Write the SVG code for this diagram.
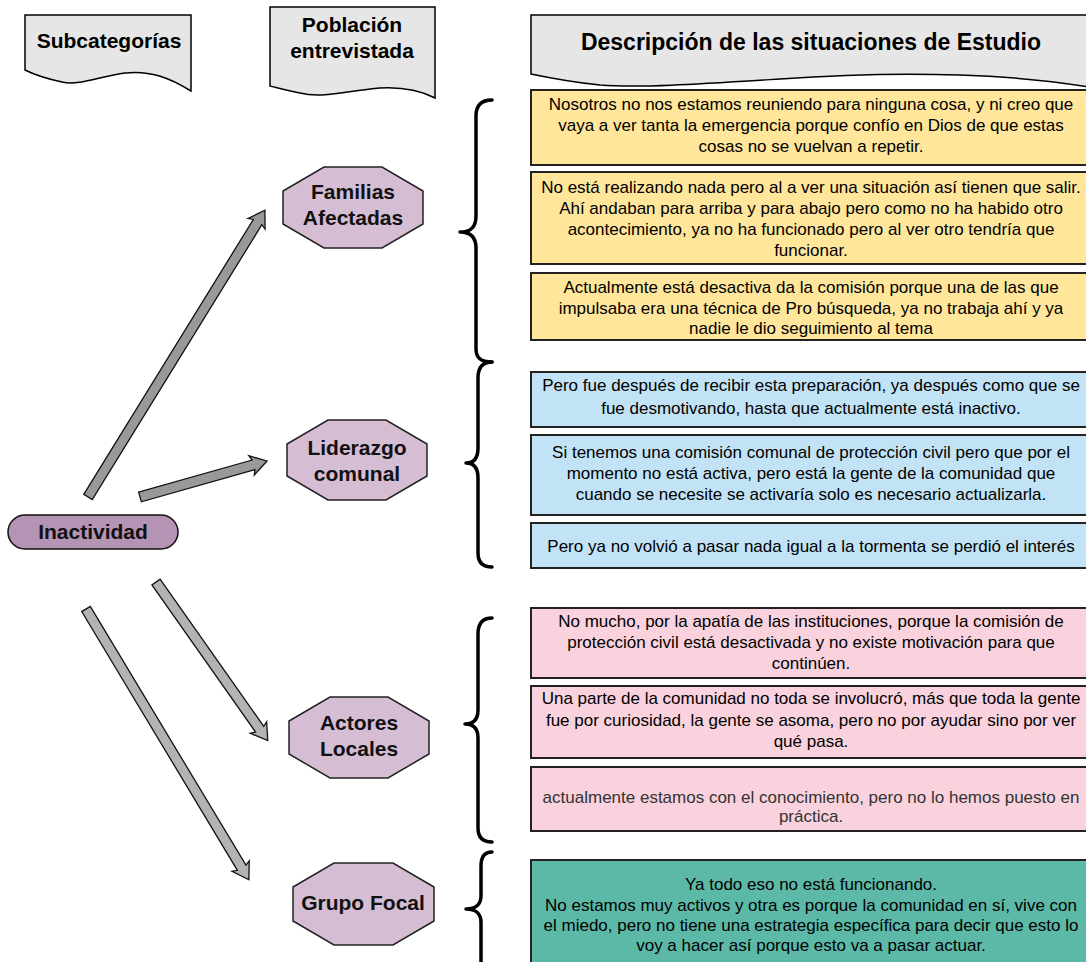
<svg xmlns="http://www.w3.org/2000/svg" width="1086" height="962" viewBox="0 0 1086 962">
<style>
.hdr{fill:#e6e6e6;stroke:#000;stroke-width:1.5}
.ht{font-family:"Liberation Sans",Arial,sans-serif;font-weight:bold;fill:#000;text-anchor:middle}
.oct{fill:#d5bdd4;stroke:#222;stroke-width:1.5}
.ot{font-family:"Liberation Sans",Arial,sans-serif;font-weight:bold;font-size:21px;fill:#111;text-anchor:middle}
.box{stroke:#222;stroke-width:2}
.yel{fill:#ffe69a}
.blu{fill:#c2e3f5}
.pnk{fill:#f9d2dd}
.tea{fill:#5cb9a7}
.bt{font-family:"Liberation Sans",Arial,sans-serif;font-size:17px;fill:#000;text-anchor:middle}
.brace{fill:none;stroke:#000;stroke-width:3.5;stroke-linecap:round;stroke-linejoin:round}
.arr{stroke:#111;stroke-width:1.3;stroke-linejoin:miter}
</style>

<g id="header-subcategorias">
<path class="hdr" d="M25,15 H191 V91 C170,78 150,70 125,73 C100,76 80,86 62,82 C48,79 35,75 25,70 Z"/>
<text class="ht" x="109" y="48" font-size="21">Subcategorías</text>
</g>
<g id="header-poblacion">
<path class="hdr" d="M270,7 H435 V98 C415,88 395,86 370,89 C345,92 320,98 300,93 C288,91 278,88 270,86 Z"/>
<text class="ht" x="352" y="32" font-size="21">Población</text>
<text class="ht" x="352" y="58" font-size="21">entrevistada</text>
</g>
<g id="header-descripcion">
<path class="hdr" d="M531,15 H1095 V88 C1060,82 1020,77 960,75 C900,73 850,74 780,79 C700,84 640,88 600,85 C570,82 550,78 531,74 Z"/>
<text class="ht" x="811" y="50" font-size="23">Descripción de las situaciones de Estudio</text>
</g>

<g id="connectors">
<path class="arr" fill="#999" transform="translate(88,497) rotate(-58.33)" d="M0,-5 L323,-5 L321,-10 L337,0 L321,10 L323,5 L0,5 Z"/>
<path class="arr" fill="#999" transform="translate(140,497) rotate(-15.83)" d="M0,-5 L118,-5 L116,-10 L132,0 L116,10 L118,5 L0,5 Z"/>
<path class="arr" fill="#b3b3b3" transform="translate(156,582) rotate(54.84)" d="M0,-5 L180,-5 L178,-10 L194,0 L178,10 L180,5 L0,5 Z"/>
<path class="arr" fill="#b3b3b3" transform="translate(86,609) rotate(58.97)" d="M0,-5 L302,-5 L300,-10 L316,0 L300,10 L302,5 L0,5 Z"/>
<path class="brace" d="M492,100 C481,100 476,106 476,116 L476,216 C476,227 471,232 460,232 C471,232 476,238 476,248 L476,349 C476,358 481,362 492,362"/>
<path class="brace" d="M492,362 C482,362 478,368 478,378 L478,448 C478,458 474,463 466,463 C474,463 478,468 478,478 L478,553 C478,562 482,567 492,567"/>
<path class="brace" d="M492,618 C482,618 478,624 478,634 L478,710 C478,719 474,724 465,724 C474,724 478,729 478,738 L478,828 C478,837 482,842 492,842"/>
<path class="brace" d="M492,852 C484,852 481,857 481,866 L481,896 C481,904 476,909 466,909 C476,909 481,914 481,922 L481,970"/>
</g>

<g id="node-inactividad">
<rect x="8" y="515" width="170" height="34" rx="17" fill="#b593b5" stroke="#111" stroke-width="1.5"/>
<text class="ot" x="93" y="539">Inactividad</text>
</g>

<g id="node-familias">
<polygon class="oct" points="324,167 382,167 423,191 423,224 382,248 324,248 283,224 283,191"/>
<text class="ot" x="353" y="199">Familias</text>
<text class="ot" x="353" y="225">Afectadas</text>
</g>
<g id="node-liderazgo">
<polygon class="oct" points="328,420 386,420 427,444 427,476 386,500 328,500 287,476 287,444"/>
<text class="ot" x="357" y="455">Liderazgo</text>
<text class="ot" x="357" y="481">comunal</text>
</g>
<g id="node-actores">
<polygon class="oct" points="330,697 388,697 429,721 429,754 388,778 330,778 289,754 289,721"/>
<text class="ot" x="359" y="730">Actores</text>
<text class="ot" x="359" y="756">Locales</text>
</g>
<g id="node-grupo">
<polygon class="oct" points="334,863 393,863 434,887 434,921 393,945 334,945 293,921 293,887"/>
<text class="ot" x="363" y="910">Grupo Focal</text>
</g>

<g id="box-1">
<rect class="box yel" x="531" y="90" width="562" height="75"/>
<text class="bt" x="811" y="110">Nosotros no nos estamos reuniendo para ninguna cosa, y ni creo que</text>
<text class="bt" x="811" y="131">vaya a ver tanta la emergencia porque confío en Dios de que estas</text>
<text class="bt" x="811" y="152">cosas no se vuelvan a repetir.</text>
</g>
<g id="box-2">
<rect class="box yel" x="531" y="172" width="562" height="92"/>
<text class="bt" x="811" y="193">No está realizando nada pero al a ver una situación así tienen que salir.</text>
<text class="bt" x="811" y="214">Ahí andaban para arriba y para abajo pero como no ha habido otro</text>
<text class="bt" x="811" y="235">acontecimiento, ya no ha funcionado pero al ver otro tendría que</text>
<text class="bt" x="811" y="256">funcionar.</text>
</g>
<g id="box-3">
<rect class="box yel" x="531" y="273" width="562" height="67"/>
<text class="bt" x="811" y="293">Actualmente está desactiva da la comisión porque una de las que</text>
<text class="bt" x="811" y="314">impulsaba era una técnica de Pro búsqueda, ya no trabaja ahí y ya</text>
<text class="bt" x="811" y="334">nadie le dio seguimiento al tema</text>
</g>
<g id="box-4">
<rect class="box blu" x="531" y="372" width="562" height="55"/>
<text class="bt" x="811" y="391">Pero fue después de recibir esta preparación, ya después como que se</text>
<text class="bt" x="811" y="414">fue desmotivando, hasta que actualmente está inactivo.</text>
</g>
<g id="box-5">
<rect class="box blu" x="531" y="435" width="562" height="80"/>
<text class="bt" x="811" y="458">Si tenemos una comisión comunal de protección civil pero que por el</text>
<text class="bt" x="811" y="479">momento no está activa, pero está la gente de la comunidad que</text>
<text class="bt" x="811" y="500">cuando se necesite se activaría solo es necesario actualizarla.</text>
</g>
<g id="box-6">
<rect class="box blu" x="531" y="523" width="562" height="45"/>
<text class="bt" x="811" y="552">Pero ya no volvió a pasar nada igual a la tormenta se perdió el interés</text>
</g>
<g id="box-7">
<rect class="box pnk" x="531" y="608" width="562" height="70"/>
<text class="bt" x="811" y="627">No mucho, por la apatía de las instituciones, porque la comisión de</text>
<text class="bt" x="811" y="648">protección civil está desactivada y no existe motivación para que</text>
<text class="bt" x="811" y="669">continúen.</text>
</g>
<g id="box-8">
<rect class="box pnk" x="531" y="686" width="562" height="72"/>
<text class="bt" x="811" y="704">Una parte de la comunidad no toda se involucró, más que toda la gente</text>
<text class="bt" x="811" y="726">fue por curiosidad, la gente se asoma, pero no por ayudar sino por ver</text>
<text class="bt" x="811" y="747">qué pasa.</text>
</g>
<g id="box-9">
<rect class="box pnk" x="531" y="767" width="562" height="64"/>
<text class="bt" x="811" y="803" style="fill:#333">actualmente estamos con el conocimiento, pero no lo hemos puesto en</text>
<text class="bt" x="811" y="822" style="fill:#333">práctica.</text>
</g>
<g id="box-10">
<rect class="box tea" x="531" y="860" width="562" height="110"/>
<text class="bt" x="811" y="890">Ya todo eso no está funcionando.</text>
<text class="bt" x="811" y="911">No estamos muy activos y otra es porque la comunidad en sí, vive con</text>
<text class="bt" x="811" y="931">el miedo, pero no tiene una estrategia específica para decir que esto lo</text>
<text class="bt" x="811" y="951">voy a hacer así porque esto va a pasar actuar.</text>
</g>
</svg>
